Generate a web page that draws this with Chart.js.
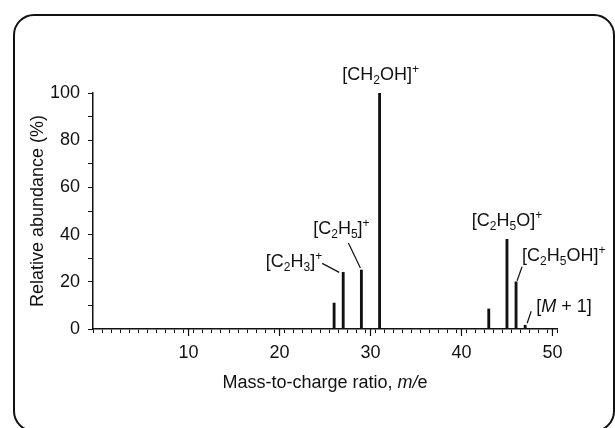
<!DOCTYPE html>
<html>
<head>
<meta charset="utf-8">
<script src="https://cdn.jsdelivr.net/npm/chart.js@4.4.0/dist/chart.umd.min.js"></script>
<style>
  html, body { margin: 0; padding: 0; background: #fff; }
  #wrap { width: 615px; height: 428px; position: relative; }
</style>
</head>
<body>
<div id="wrap"><canvas id="spectrum"></canvas></div>
<script>
// mass spectrum of ethanol
const massToCharge = [26, 27, 29, 31, 43, 45, 46, 47];
const abundance    = [11, 24, 25, 100, 8.5, 38, 20, 1.6];
const xLabelTicks  = [10, 20, 30, 40, 50];
const yLabelTicks  = [0, 20, 40, 60, 80, 100];

// peak labels: _x subscript, ^x superscript, *...* italic
const peakLabelMz   = [27, 29, 31, 45, 46, 47];
const peakLabelText = ['[C_2H_3]^+', '[C_2H_5]^+', '[CH_2OH]^+', '[C_2H_5O]^+', '[C_2H_5OH]^+', '[*M* + 1]'];

// where each label sits relative to the top of its peak (pixels)
const labelLayout = [
  { align: 'right',  dx: -21, dy: -12, lead: [-21, -9, -4, 0] },
  { align: 'center', dx: -20, dy: -43, lead: [-13, -27, -1, -2] },
  { align: 'center', dx: 1,   dy: -20, lead: null },
  { align: 'center', dx: 0,   dy: -20, lead: null },
  { align: 'left',   dx: 6,   dy: -27, lead: [6, -15, 1, -1] },
  { align: 'left',   dx: 11,  dy: -20, lead: [6, -14, 2, -2] }
];

const FONT = '"Liberation Sans", Arial, sans-serif';

function parseRich(str) {
  const segs = [];
  let italic = false;
  for (let i = 0; i < str.length; i++) {
    const c = str[i];
    if (c === '*') { italic = !italic; continue; }
    if (c === '_' || c === '^') {
      segs.push({ t: str[i + 1], mode: c === '_' ? 'sub' : 'sup', italic });
      i++;
      continue;
    }
    segs.push({ t: c, mode: 'normal', italic });
  }
  return segs;
}

function segFont(s) {
  const size = s.mode === 'normal' ? 18 : 12;
  return (s.italic ? 'italic ' : '') + size + 'px ' + FONT;
}

function drawRich(ctx, str, x, midY, align) {
  const segs = parseRich(str);
  let w = 0;
  segs.forEach(s => { ctx.font = segFont(s); s.w = ctx.measureText(s.t).width; w += s.w; });
  let cx = align === 'center' ? x - w / 2 : align === 'right' ? x - w : x;
  const base = midY + 6.5;
  ctx.textAlign = 'left';
  ctx.textBaseline = 'alphabetic';
  segs.forEach(s => {
    ctx.font = segFont(s);
    let y = base;
    if (s.mode === 'sub') y = base + 4;
    if (s.mode === 'sup') y = base - 7;
    ctx.fillText(s.t, cx, y);
    cx += s.w;
  });
}

const decorPlugin = {
  id: 'decor',
  beforeDraw(chart) {
    const ctx = chart.ctx;
    ctx.save();
    ctx.fillStyle = '#fff';
    ctx.fillRect(0, 0, chart.width, chart.height);
    // rounded frame
    ctx.strokeStyle = '#111';
    ctx.lineWidth = 2;
    ctx.beginPath();
    ctx.roundRect(14, 15, 600, 416, 20);
    ctx.stroke();
    ctx.restore();
  },
  afterDraw(chart) {
    const ctx = chart.ctx;
    const xs = chart.scales.x, ys = chart.scales.y;
    ctx.save();
    ctx.fillStyle = '#111';
    ctx.strokeStyle = '#111';

    // longer ticks at the labelled x values
    ctx.lineWidth = 1.2;
    xLabelTicks.forEach(v => {
      const px = xs.getPixelForValue(v);
      ctx.beginPath();
      ctx.moveTo(px, ys.bottom);
      ctx.lineTo(px, ys.bottom + 7);
      ctx.stroke();
    });

    // peak labels and leader lines
    peakLabelMz.forEach((mz, i) => {
      const idx = massToCharge.indexOf(mz);
      const bx = xs.getPixelForValue(mz);
      const by = ys.getPixelForValue(abundance[idx]);
      const L = labelLayout[i];
      drawRich(ctx, peakLabelText[i], bx + L.dx, by + L.dy, L.align);
      if (L.lead) {
        ctx.lineWidth = 1.2;
        ctx.beginPath();
        ctx.moveTo(bx + L.lead[0], by + L.lead[1]);
        ctx.lineTo(bx + L.lead[2], by + L.lead[3]);
        ctx.stroke();
      }
    });

    // x axis title with italic m/e
    drawRich(ctx, 'Mass-to-charge ratio, *m/*e', (xs.left + xs.right) / 2, 381, 'center');
    ctx.restore();
  }
};

new Chart(document.getElementById('spectrum'), {
  type: 'bar',
  data: {
    datasets: [{
      data: massToCharge.map((m, i) => ({ x: m, y: abundance[i] })),
      backgroundColor: '#111',
      borderWidth: 0,
      barThickness: 2.2
    }]
  },
  plugins: [decorPlugin],
  options: {
    responsive: true,
    maintainAspectRatio: false,
    animation: false,
    layout: { padding: { left: 0, top: 93, right: 58, bottom: 0 } },
    plugins: { legend: { display: false }, tooltip: { enabled: false } },
    scales: {
      x: {
        type: 'linear',
        min: 0,
        max: 50,
        afterFit: s => { s.height = 99; },
        border: { display: true, color: '#111', width: 1.5 },
        grid: { drawOnChartArea: false, drawTicks: true, tickLength: 4, tickColor: '#111', tickWidth: 1 },
        ticks: {
          stepSize: 1,
          autoSkip: false,
          maxRotation: 0,
          padding: 9,
          color: '#111',
          font: { family: FONT, size: 18 },
          callback: v => xLabelTicks.includes(v) ? String(v) : ''
        },
        title: { display: false }
      },
      y: {
        min: 0,
        max: 100,
        afterFit: s => { s.width = 93; },
        border: { display: true, color: '#111', width: 1.5 },
        grid: { drawOnChartArea: false, drawTicks: true, tickLength: 5, tickColor: '#111', tickWidth: 1 },
        ticks: {
          stepSize: 10,
          autoSkip: false,
          padding: 8,
          color: '#111',
          font: { family: FONT, size: 18 },
          callback: v => yLabelTicks.includes(v) ? String(v) : ''
        },
        title: {
          display: true,
          text: 'Relative abundance (%)',
          color: '#111',
          font: { family: FONT, size: 18 },
          padding: { top: 27, bottom: 0 }
        }
      }
    }
  }
});
</script>
</body>
</html>
